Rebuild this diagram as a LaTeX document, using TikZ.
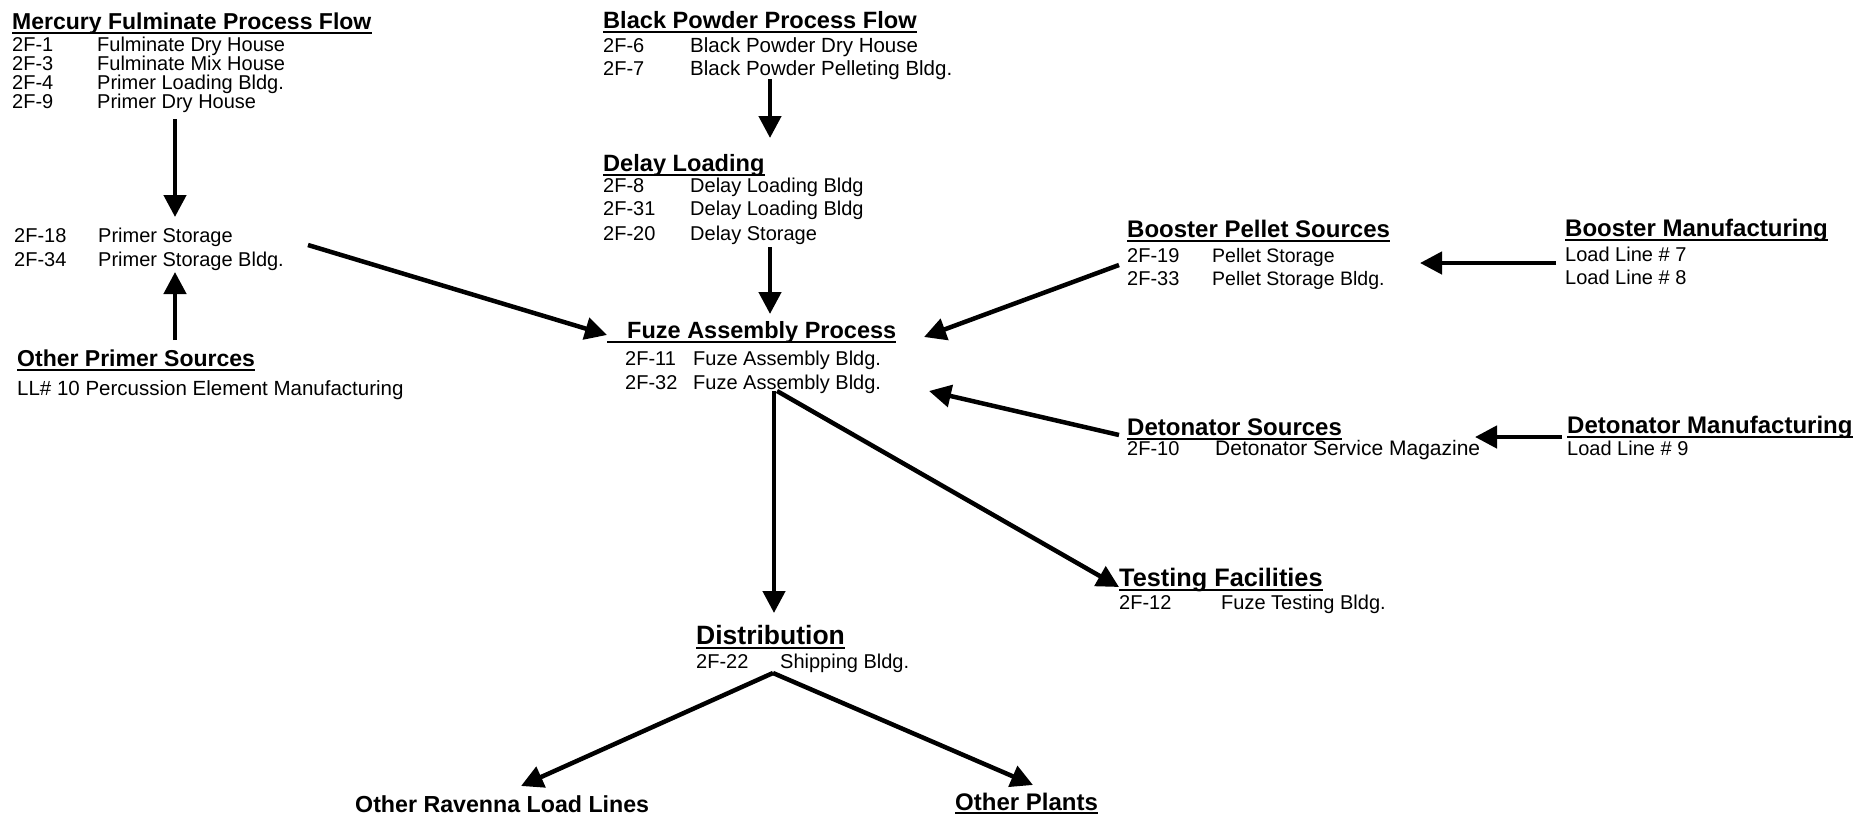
\documentclass[tikz,border=0pt]{standalone}
\usepackage{fontspec}
\setmainfont{Liberation Sans}
\usetikzlibrary{arrows.meta}
\newcommand\ulme[1]{\draw[ulbar] ([yshift=-4pt]#1.base west) -- ([yshift=-4pt]#1.base east);}
\begin{document}
\begin{tikzpicture}[x=1pt,y=-1pt,
  ttl/.style={anchor=base west,inner sep=0pt,font=\fontsize{#1}{28}\selectfont\bfseries},
  ttl/.default=24,
  bigttl/.style={anchor=base west,inner sep=0pt,font=\fontsize{26.5}{30}\selectfont\bfseries},
  row/.style={anchor=base west,inner sep=0pt,font=\fontsize{#1}{22}\selectfont},
  row/.default=20,
  arr/.style={line width=4.5pt,-{Triangle[length=22pt,width=22pt]}},
  ulbar/.style={line width=1.8pt}]
\useasboundingbox (0,0) rectangle (1858,814);
\fill[white] (0,0) rectangle (1858,814);

% Mercury Fulminate
\node[ttl=23] (mt) at (12,29) {Mercury Fulminate Process Flow};
\ulme{mt}
\node[row] (m1c) at (12,51) {2F-1};  \node[row] (m1n) at (97,51) {Fulminate Dry House};
\node[row] (m2c) at (12,70) {2F-3};  \node[row] (m2n) at (97,70) {Fulminate Mix House};
\node[row] (m3c) at (12,89) {2F-4};  \node[row] (m3n) at (97,89) {Primer Loading Bldg.};
\node[row] (m4c) at (12,108) {2F-9}; \node[row] (m4n) at (97,108) {Primer Dry House};

% Primer storage
\node[row] (p1c) at (14,242) {2F-18}; \node[row] (p1n) at (98,242) {Primer Storage};
\node[row] (p2c) at (14,266) {2F-34}; \node[row] (p2n) at (98,266) {Primer Storage Bldg.};

% Other primer sources
\node[ttl=23] (ot) at (17,366) {Other Primer Sources};
\ulme{ot}
\node[row=20.5] (o1) at (17,395) {LL\# 10 Percussion Element Manufacturing};

% Black powder
\node[ttl=23.6] (bt) at (603,28) {Black Powder Process Flow};
\ulme{bt}
\node[row] (b1c) at (603,52) {2F-6}; \node[row=20.5] (b1n) at (690,52) {Black Powder Dry House};
\node[row] (b2c) at (603,75) {2F-7}; \node[row=20.5] (b2n) at (690,75) {Black Powder Pelleting Bldg.};

% Delay loading
\node[ttl=23.6] (dt) at (603,171) {Delay Loading};
\ulme{dt}
\node[row] (d1c) at (603,192) {2F-8};  \node[row] (d1n) at (690,192) {Delay Loading Bldg};
\node[row] (d2c) at (603,215) {2F-31}; \node[row] (d2n) at (690,215) {Delay Loading Bldg};
\node[row] (d3c) at (603,240) {2F-20}; \node[row] (d3n) at (690,240) {Delay Storage};

% Fuze assembly
\node[ttl=23.5] (ft) at (627,338) {Fuze Assembly Process};
\draw[ulbar] ([yshift=-4pt]ft.base west) ++(-20,0) -- ([yshift=-4pt]ft.base east);
\node[row] (f1c) at (625,365) {2F-11}; \node[row] (f1n) at (693,365) {Fuze Assembly Bldg.};
\node[row] (f2c) at (625,389) {2F-32}; \node[row] (f2n) at (693,389) {Fuze Assembly Bldg.};

% Booster pellet sources
\node[ttl] (pt) at (1127,237) {Booster Pellet Sources};
\ulme{pt}
\node[row] (s1c) at (1127,262) {2F-19}; \node[row=19.5] (s1n) at (1212,262) {Pellet Storage};
\node[row] (s2c) at (1127,285) {2F-33}; \node[row=19.5] (s2n) at (1212,285) {Pellet Storage Bldg.};

% Booster manufacturing
\node[ttl] (bm) at (1565,236) {Booster Manufacturing};
\ulme{bm}
\node[row] (bm1) at (1565,261) {Load Line \# 7};
\node[row] (bm2) at (1565,284) {Load Line \# 8};

% Detonator sources
\node[ttl] (ds) at (1127,435) {Detonator Sources};
\ulme{ds}
\node[row] (ds1c) at (1127,455) {2F-10}; \node[row=21] (ds1n) at (1215,455) {Detonator Service Magazine};

% Detonator manufacturing
\node[ttl] (dm) at (1567,433) {Detonator Manufacturing};
\ulme{dm}
\node[row] (dm1) at (1567,455) {Load Line \# 9};

% Testing
\node[ttl=25.3] (tt) at (1119,586) {Testing Facilities};
\ulme{tt}
\node[row] (t1c) at (1119,609) {2F-12}; \node[row] (t1n) at (1221,609) {Fuze Testing Bldg.};

% Distribution
\node[bigttl] (dist) at (696,644) {Distribution};
\ulme{dist}
\node[row] (di1c) at (696,668) {2F-22}; \node[row] (di1n) at (780,668) {Shipping Bldg.};

% Outputs
\node[ttl=23.2] (orl) at (355,812) {Other Ravenna Load Lines};
\node[ttl] (opl) at (955,810) {Other Plants};
\draw[ulbar] ([yshift=-3pt]opl.base west) -- ([yshift=-3pt]opl.base east);

% arrow end points
\coordinate (a1s) at (175,119);  \coordinate (a1e) at (175,217);
\coordinate (a2s) at (175,340);  \coordinate (a2e) at (175,272);
\coordinate (a3s) at (770,79);   \coordinate (a3e) at (770,138);
\coordinate (a4s) at (770,247);  \coordinate (a4e) at (770,314);
\coordinate (a5s) at (308,245);  \coordinate (a5e) at (607,335);
\coordinate (a6s) at (1119,265); \coordinate (a6e) at (924,337);
\coordinate (a7s) at (1556,263); \coordinate (a7e) at (1420,263);
\coordinate (a8s) at (1119,435); \coordinate (a8e) at (929,391);
\coordinate (a9s) at (1562,437); \coordinate (a9e) at (1475,437);
\coordinate (a10s) at (774,391); \coordinate (a10e) at (774,613);
\coordinate (a11s) at (777,391); \coordinate (a11e) at (1119,587);
\coordinate (a12s) at (773,673); \coordinate (a12e) at (521,786);
\coordinate (a13e) at (1033,785);

\draw[arr] (a1s) -- (a1e);
\draw[arr] (a2s) -- (a2e);
\draw[arr] (a3s) -- (a3e);
\draw[arr] (a4s) -- (a4e);
\draw[arr] (a5s) -- (a5e);
\draw[arr] (a6s) -- (a6e);
\draw[arr] (a7s) -- (a7e);
\draw[arr] (a8s) -- (a8e);
\draw[arr] (a9s) -- (a9e);
\draw[arr] (a10s) -- (a10e);
\draw[arr] (a11s) -- (a11e);
\draw[arr] (a12s) -- (a12e);
\draw[arr] (a12s) -- (a13e);
\end{tikzpicture}
\end{document}
